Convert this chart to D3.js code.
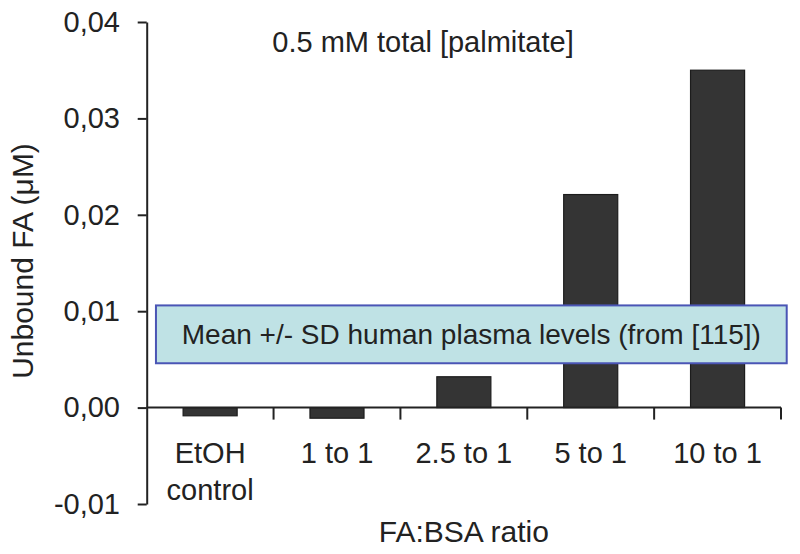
<!DOCTYPE html>
<html>
<head>
<meta charset="utf-8">
<script src="https://cdn.jsdelivr.net/npm/d3@7"></script>
<style>
  html, body { margin: 0; padding: 0; background: #fff; }
  svg { display: block; }
  text { font-family: "Liberation Sans", Arial, sans-serif; fill: #222; }
</style>
</head>
<body>
<svg id="chart" width="800" height="554"></svg>
<script>
// ---- data ----
const categories = ["EtOH control", "1 to 1", "2.5 to 1", "5 to 1", "10 to 1"];
const categoryLines = [["EtOH", "control"], ["1 to 1"], ["2.5 to 1"], ["5 to 1"], ["10 to 1"]];
const values = [-0.00085, -0.0011, 0.0032, 0.0221, 0.035];
const yTicks = [-0.01, 0, 0.01, 0.02, 0.03, 0.04];
const plasmaRange = [0.0046, 0.0106];           // mean +/- SD band (µM)
const plasmaSpan = [0.073, 5.045];               // in category-slot units
const titleText = "0.5 mM total [palmitate]";
const bandText = "Mean +/- SD human plasma levels (from [115])";
const xTitle = "FA:BSA ratio";
const yTitle = "Unbound FA (\u03BCM)";

// ---- layout ----
const svg = d3.select("#chart");
const mLeft = 146.7, mRight = 781, mTop = 22, mBottom = 504;
const FS = 29;

const y = d3.scaleLinear().domain([-0.01, 0.04]).range([mBottom, mTop]);
const x = d3.scaleBand().domain(categories).range([mLeft, mRight])
  .paddingInner(0.574).paddingOuter(0.287);
const slot = d3.scaleLinear().domain([0, categories.length]).range([mLeft, mRight]);

const loc = d3.formatLocale({decimal: ",", thousands: ".", grouping: [3], currency: ["", ""], minus: "-"});
const fmt = loc.format(".2f");

// bars
svg.append("g").selectAll("rect").data(values).join("rect")
  .attr("x", (d, i) => x(categories[i]))
  .attr("width", x.bandwidth())
  .attr("y", d => y(Math.max(0, d)))
  .attr("height", d => Math.abs(y(d) - y(0)))
  .attr("fill", "#343434")
  .attr("stroke", "#1c1c1c")
  .attr("stroke-width", 1.2);

// y axis
const yAxis = d3.axisLeft(y).tickValues(yTicks).tickFormat(fmt)
  .tickSize(9).tickSizeOuter(0).tickPadding(17.7);
const gy = svg.append("g").attr("transform", `translate(${mLeft},0)`).call(yAxis);
gy.select(".domain").attr("stroke", "#222").attr("stroke-width", 2);
gy.selectAll(".tick line").attr("stroke", "#222").attr("stroke-width", 2);
gy.selectAll(".tick text").attr("font-size", FS)
  .attr("font-family", '"Liberation Sans", Arial, sans-serif').attr("fill", "#222");

// x axis line at zero with slot boundary ticks
const gx = svg.append("g");
gx.append("line").attr("x1", mLeft).attr("x2", mRight).attr("y1", y(0)).attr("y2", y(0))
  .attr("stroke", "#222").attr("stroke-width", 2);
gx.selectAll("line.tk").data(d3.range(1, categories.length + 1)).join("line")
  .attr("class", "tk")
  .attr("x1", d => slot(d)).attr("x2", d => slot(d))
  .attr("y1", y(0)).attr("y2", y(0) + 12)
  .attr("stroke", "#222").attr("stroke-width", 2);

// category labels
categoryLines.forEach((lines, i) => {
  const cx = x(categories[i]) + x.bandwidth() / 2;
  lines.forEach((t, j) => {
    svg.append("text").attr("x", cx).attr("y", 462.7 + j * 37.3)
      .attr("text-anchor", "middle").attr("font-size", FS).text(t);
  });
});

// plasma band box
svg.append("rect")
  .attr("x", slot(plasmaSpan[0]))
  .attr("width", slot(plasmaSpan[1]) - slot(plasmaSpan[0]))
  .attr("y", y(plasmaRange[1]))
  .attr("height", y(plasmaRange[0]) - y(plasmaRange[1]))
  .attr("fill", "#bfe2e5")
  .attr("stroke", "#4a55b5")
  .attr("stroke-width", 2);
svg.append("text")
  .attr("x", (slot(plasmaSpan[0]) + slot(plasmaSpan[1])) / 2)
  .attr("y", (y(plasmaRange[0]) + y(plasmaRange[1])) / 2 + 9.5)
  .attr("text-anchor", "middle").attr("font-size", 28).text(bandText);

// titles
svg.append("text").attr("x", 423).attr("y", 52).attr("text-anchor", "middle")
  .attr("font-size", FS).text(titleText);
svg.append("text").attr("x", (mLeft + mRight) / 2).attr("y", 541.7).attr("text-anchor", "middle")
  .attr("font-size", 30).text(xTitle);
svg.append("text").attr("transform", "translate(33,261) rotate(-90)")
  .attr("text-anchor", "middle").attr("font-size", 30).text(yTitle);
</script>
</body>
</html>
